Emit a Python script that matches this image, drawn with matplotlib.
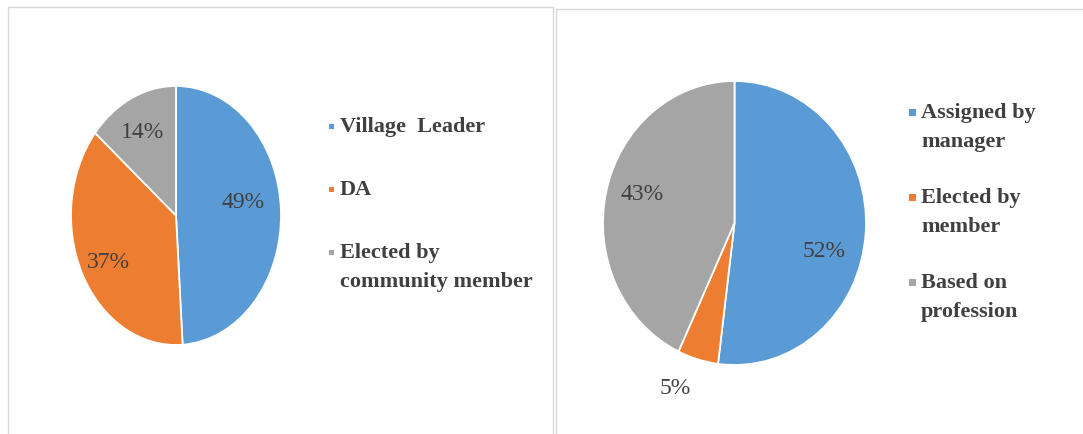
import matplotlib.pyplot as plt
from matplotlib.patches import Rectangle
import numpy as np

# figure size in pixels (dpi 100)
W, H = 1083, 435

colors = ['#5B9BD5', '#ED7D31', '#A5A5A5']
text_color = '#404040'

# left chart: who selects the leader
left_labels = ['Village  Leader', 'DA', 'Elected by\ncommunity member']
left_values = [49, 37, 14]

# right chart: how the member is chosen
right_labels = ['Assigned by\nmanager', 'Elected by\nmember', 'Based on\nprofession']
right_values = [52, 5, 43]


def fx(x):
    return x / W


def fy(y):
    return 1 - y / H


def draw_pie(fig, box, values, label_r, label_dang):
    # box = (left, top, right, bottom) in pixels
    x0, y0, x1, y1 = box
    ax = fig.add_axes([fx(x0), fy(y1), (x1 - x0) / W, (y1 - y0) / H])
    wedges, _ = ax.pie(values, colors=colors, startangle=90, counterclock=False,
                       wedgeprops=dict(edgecolor='white', linewidth=1.3))
    ax.set_aspect('auto')
    ax.set_xlim(-1, 1)
    ax.set_ylim(-1, 1)
    ax.axis('off')
    for w, v, r, da in zip(wedges, values, label_r, label_dang):
        ang = np.deg2rad((w.theta1 + w.theta2) / 2 + da)
        ax.text(r * np.cos(ang), r * np.sin(ang), f'{v}%', ha='center', va='center',
                fontsize=17, color=text_color, family='Liberation Serif',
                clip_on=False)
    return ax


def draw_legend(fig, labels, x_mark, x_text, y_first, line_gap, pad, msize):
    y = y_first
    for lab, c in zip(labels, colors):
        fig.add_artist(Rectangle((fx(x_mark - msize / 2), fy(y + msize / 2)),
                                 msize / W, msize / H, facecolor=c, edgecolor='none',
                                 transform=fig.transFigure))
        lines = lab.split('\n')
        for i, line in enumerate(lines):
            fig.text(fx(x_text), fy(y + i * line_gap), line, ha='left', va='center',
                     fontsize=16, fontweight='bold', color=text_color,
                     family='Liberation Serif')
        y += len(lines) * line_gap + pad


fig = plt.figure(figsize=(W / 100, H / 100), dpi=100)
fig.patch.set_facecolor('white')

# panel frames
fig.add_artist(Rectangle((fx(8), fy(440)), (553 - 8) / W, (440 - 8) / H,
                         facecolor='none', edgecolor='#D9D9D9', linewidth=1,
                         transform=fig.transFigure))
fig.add_artist(Rectangle((fx(556), fy(440)), (1090 - 556) / W, (440 - 10) / H,
                         facecolor='none', edgecolor='#D9D9D9', linewidth=1,
                         transform=fig.transFigure))

draw_pie(fig, (71, 87, 281, 346), left_values, [0.65, 0.74, 0.72], [8, 2, 1])
draw_legend(fig, left_labels, 331.5, 340, 127, 29, 34, 5)

draw_pie(fig, (603, 82, 866, 366), right_values, [0.71, 1.24, 0.73], [-12, -5, -4])
draw_legend(fig, right_labels, 912, 921, 113, 29, 27, 7)

fig.savefig('out.png', dpi=100)
